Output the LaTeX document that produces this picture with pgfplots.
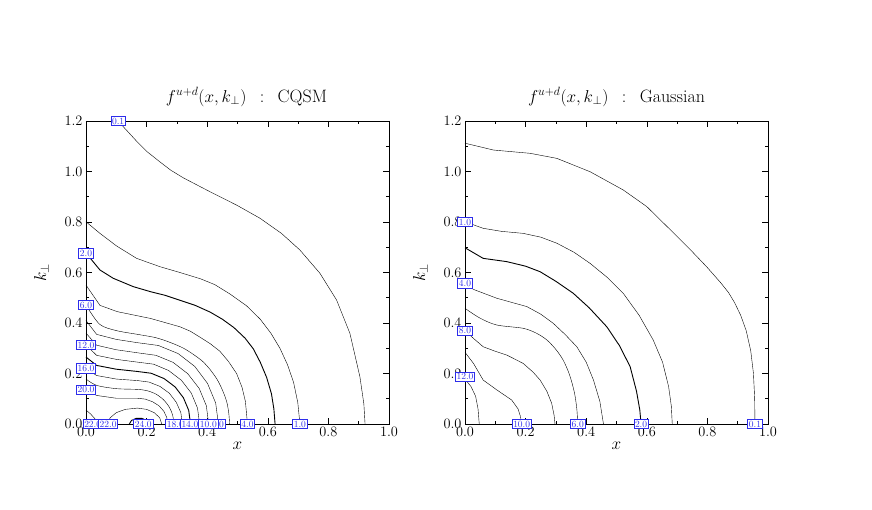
\documentclass[border=0pt]{standalone}
\usepackage{pgfplots}
\pgfplotsset{compat=1.18}
\definecolor{lblue}{RGB}{45,45,235}
\begin{document}
\begin{tikzpicture}[x=1bp,y=1bp]
\tikzset{
  lab/.style={draw=lblue, fill=white, text=lblue, line width=0.6bp,
    font=\fontsize{9.5}{10}\selectfont, inner xsep=1.2bp, inner ysep=1.4bp},
}
\pgfplotsset{
  cstyle/.style={
    scale only axis, width=303bp, height=303bp,
    xmin=0, xmax=1, ymin=0, ymax=1.2,
    xtick={0,0.2,0.4,0.6,0.8,1.0},
    ytick={0,0.2,0.4,0.6,0.8,1.0,1.2},
    minor tick num=1,
    tick align=inside,
    major tick length=6bp, minor tick length=3bp,
    every tick/.style={black, line width=0.6bp},
    axis line style={line width=0.8bp},
    /pgf/number format/fixed,
    /pgf/number format/fixed zerofill,
    /pgf/number format/precision=1,
    tick label style={font=\fontsize{15.5}{17}\selectfont},
    xlabel={$x$}, ylabel={$k_\perp$},
    label style={font=\fontsize{17}{19}\selectfont},
    xlabel style={yshift=2bp},
    ylabel style={yshift=9bp},
    title style={at={(0.5,1)}, anchor=base, yshift=13bp, font=\fontsize{18}{20}\selectfont},
    clip=false,
    cycle list={{black, solid, line width=0.9bp, no marks, smooth, tension=0.6}},
  },
}
% ---------------- CQSM ----------------
\begin{axis}[cstyle, at={(0,0)}, title={$f^{u+d}(x,k_\perp)$\hspace{0.75em}:\hspace{0.75em}CQSM}, title style={xshift=9bp}]
% 0.1
\addplot coordinates {(0.112,1.2)(0.118,1.184)(0.167,1.12)(0.2,1.08)(0.244,1.038)(0.28,1.005)(0.321,0.975)(0.409,0.92)(0.497,0.867)(0.574,0.815)(0.645,0.755)(0.706,0.689)(0.772,0.597)(0.827,0.491)(0.871,0.359)(0.904,0.187)(0.917,0.08)(0.921,0)};
% 1.0
\addplot coordinates {(0,0.801)(0.046,0.755)(0.101,0.705)(0.167,0.656)(0.244,0.623)(0.31,0.600)(0.378,0.575)(0.425,0.552)(0.475,0.515)(0.53,0.468)(0.575,0.415)(0.61,0.36)(0.64,0.30)(0.665,0.235)(0.685,0.165)(0.699,0.085)(0.706,0)};
% 2.0
\addplot coordinates {(0,0.677)(0.046,0.61)(0.09,0.577)(0.156,0.544)(0.213,0.524)(0.26,0.51)(0.31,0.49)(0.36,0.47)(0.41,0.443)(0.45,0.415)(0.488,0.382)(0.525,0.34)(0.552,0.298)(0.575,0.245)(0.596,0.185)(0.612,0.12)(0.62,0.06)(0.624,0)};
% 4.0
\addplot coordinates {(0,0.55)(0.046,0.47)(0.103,0.445)(0.213,0.418)(0.31,0.385)(0.345,0.367)(0.376,0.344)(0.41,0.318)(0.442,0.288)(0.47,0.248)(0.497,0.2)(0.515,0.145)(0.526,0.09)(0.533,0)};
% 6.0
\addplot coordinates {(0,0.471)(0.045,0.395)(0.1,0.37)(0.17,0.355)(0.23,0.342)(0.28,0.322)(0.322,0.3)(0.355,0.275)(0.385,0.248)(0.41,0.215)(0.433,0.176)(0.45,0.135)(0.464,0.09)(0.471,0.045)(0.474,0)};
% 8.0
\addplot coordinates {(0,0.41)(0.035,0.355)(0.1,0.335)(0.17,0.322)(0.239,0.311)(0.304,0.279)(0.359,0.228)(0.401,0.161)(0.428,0.083)(0.437,0)};
% 10.0
\addplot coordinates {(0,0.36)(0.035,0.312)(0.1,0.294)(0.17,0.282)(0.231,0.272)(0.2875,0.244)(0.336,0.199)(0.3735,0.141)(0.397,0.073)(0.405,0)};
% 12.0
\addplot coordinates {(0,0.313)(0.035,0.272)(0.1,0.256)(0.17,0.245)(0.223,0.237)(0.2725,0.212)(0.315,0.173)(0.3475,0.1225)(0.368,0.063)(0.375,0)};
% 14.0
\addplot coordinates {(0,0.265)(0.035,0.232)(0.1,0.217)(0.17,0.208)(0.215,0.201)(0.2575,0.180)(0.294,0.147)(0.3215,0.104)(0.339,0.054)(0.345,0)};
% 16.0
\addplot coordinates {(0,0.22)(0.035,0.192)(0.1,0.178)(0.17,0.172)(0.208,0.166)(0.244,0.149)(0.275,0.122)(0.298,0.086)(0.313,0.045)(0.318,0)};
% 18.0
\addplot coordinates {(0,0.178)(0.035,0.153)(0.1,0.14)(0.17,0.137)(0.201,0.132)(0.23,0.119)(0.255,0.097)(0.274,0.0685)(0.286,0.035)(0.29,0)};
% 20.0
\addplot coordinates {(0,0.135)(0.035,0.113)(0.1,0.102)(0.17,0.102)(0.196,0.0985)(0.22,0.088)(0.241,0.072)(0.2566,0.051)(0.2666,0.026)(0.27,0)};
% 22.0 (corner and arc)
\addplot coordinates {(0,0.055)(0.015,0.04)(0.03,0.02)(0.037,0)};
\addplot coordinates {(0.07,0)(0.08,0.025)(0.1,0.045)(0.13,0.058)(0.17,0.063)(0.2,0.058)(0.225,0.045)(0.243,0.025)(0.25,0)};
% 24.0
\addplot coordinates {(0.143,0)(0.15,0.014)(0.165,0.022)(0.185,0.022)(0.2,0.014)(0.207,0)};
% labels
\node[lab] at (axis cs:0.106,1.2) {0.1};
\node[lab] at (axis cs:0,0.676) {2.0};
\node[lab] at (axis cs:0,0.471) {6.0};
\node[lab] at (axis cs:0,0.313) {12.0};
\node[lab] at (axis cs:0,0.22) {16.0};
\node[lab] at (axis cs:0,0.135) {20.0};
\node[lab] at (axis cs:0.706,0) {1.0};
\node[lab] at (axis cs:0.533,0) {4.0};
\node[lab] at (axis cs:0.435,0) {8.0};
\node[lab] at (axis cs:0.295,0) {18.0};
\node[lab] at (axis cs:0.343,0) {14.0};
\node[lab] at (axis cs:0.404,0) {10.0};
\node[lab] at (axis cs:0.022,0) {22.0};
\node[lab] at (axis cs:0.073,0) {22.0};
\node[lab] at (axis cs:0.189,0) {24.0};
\end{axis}
% ---------------- Gaussian ----------------
\begin{axis}[cstyle, at={(379bp,0)}, title={$f^{u+d}(x,k_\perp)$\hspace{0.75em}:\hspace{0.75em}Gaussian}]
% 0.1
\addplot coordinates {(0,1.112)(0.094,1.085)(0.215,1.072)(0.303,1.052)(0.413,0.999)(0.522,0.927)(0.6,0.861)(0.677,0.77)(0.74,0.695)(0.798,0.622)(0.845,0.558)(0.87,0.52)(0.89,0.48)(0.91,0.43)(0.928,0.37)(0.943,0.29)(0.952,0.2)(0.956,0.1)(0.957,0)};
% 1.0
\addplot coordinates {(0,0.801)(0.06,0.775)(0.12,0.763)(0.192,0.755)(0.25,0.74)(0.303,0.716)(0.36,0.68)(0.413,0.636)(0.47,0.58)(0.522,0.518)(0.575,0.43)(0.621,0.333)(0.652,0.245)(0.672,0.148)(0.681,0.07)(0.684,0)};
% 2.0
\addplot coordinates {(0,0.698)(0.06,0.656)(0.138,0.643)(0.2,0.625)(0.248,0.603)(0.3,0.565)(0.357,0.518)(0.41,0.46)(0.468,0.385)(0.51,0.31)(0.545,0.227)(0.566,0.13)(0.577,0.055)(0.581,0)};
% 4.0
\addplot coordinates {(0,0.557)(0.028,0.533)(0.105,0.498)(0.204,0.465)(0.25,0.435)(0.291,0.399)(0.33,0.355)(0.369,0.306)(0.4,0.245)(0.424,0.174)(0.445,0.09)(0.457,0)};
% 6.0
\addplot coordinates {(0,0.458)(0.05,0.419)(0.105,0.392)(0.192,0.379)(0.235,0.36)(0.27,0.333)(0.3,0.295)(0.324,0.253)(0.345,0.195)(0.361,0.125)(0.369,0.06)(0.372,0)};
% 8.0
\addplot coordinates {(0,0.37)(0.028,0.339)(0.06,0.306)(0.1,0.288)(0.138,0.273)(0.192,0.24)(0.225,0.205)(0.248,0.174)(0.27,0.13)(0.286,0.082)(0.294,0.035)(0.297,0)};
% 10.0
\addplot coordinates {(0,0.284)(0.028,0.24)(0.06,0.174)(0.105,0.135)(0.154,0.095)(0.175,0.06)(0.183,0.03)(0.187,0)};
% 12.0
\addplot coordinates {(0,0.178)(0.02,0.148)(0.035,0.11)(0.043,0.06)(0.047,0)};
% labels
\node[lab] at (axis cs:0,0.80) {1.0};
\node[lab] at (axis cs:0,0.557) {4.0};
\node[lab] at (axis cs:0,0.37) {8.0};
\node[lab] at (axis cs:0,0.187) {12.0};
\node[lab] at (axis cs:0.187,0) {10.0};
\node[lab] at (axis cs:0.372,0) {6.0};
\node[lab] at (axis cs:0.581,0) {2.0};
\node[lab] at (axis cs:0.957,0) {0.1};
\end{axis}
\path[use as bounding box] (-86bp,-86bp) rectangle (786bp,424bp);
\end{tikzpicture}
\end{document}
